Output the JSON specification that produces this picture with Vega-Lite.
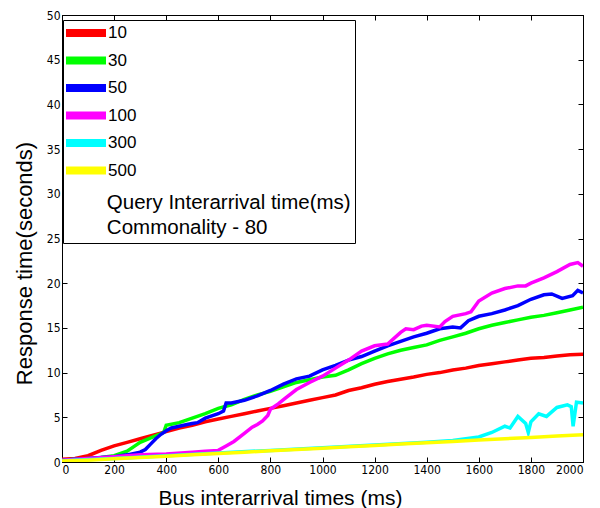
{
  "$schema": "https://vega.github.io/schema/vega-lite/v6.json",
  "width": 521,
  "height": 447,
  "autosize": "none",
  "padding": {"left": 62, "top": 15, "right": 17, "bottom": 46},
  "background": "white",
  "config": {
    "view": {"stroke": "black", "strokeWidth": 1},
    "font": "Liberation Sans",
    "axis": {
      "grid": false,
      "domainColor": "black",
      "tickColor": "black",
      "labelColor": "black",
      "titleColor": "black",
      "labelFont": "DejaVu Sans Condensed, Liberation Sans",
      "labelFontSize": 12,
      "titleFont": "Liberation Sans",
      "titleFontWeight": "normal",
      "titleFontSize": 21
    }
  },
  "data": {
    "values": [
      {"t": 0, "r": 0.3, "q": "10"}, {"t": 50, "r": 0.4, "q": "10"}, {"t": 100, "r": 0.7, "q": "10"}, {"t": 150, "r": 1.3, "q": "10"}, {"t": 200, "r": 1.8, "q": "10"}, {"t": 250, "r": 2.2, "q": "10"}, {"t": 300, "r": 2.6, "q": "10"}, {"t": 350, "r": 3.0, "q": "10"}, {"t": 400, "r": 3.4, "q": "10"}, {"t": 450, "r": 3.8, "q": "10"}, {"t": 500, "r": 4.1, "q": "10"}, {"t": 550, "r": 4.5, "q": "10"}, {"t": 600, "r": 4.8, "q": "10"}, {"t": 650, "r": 5.1, "q": "10"}, {"t": 700, "r": 5.4, "q": "10"}, {"t": 750, "r": 5.7, "q": "10"}, {"t": 800, "r": 6.0, "q": "10"}, {"t": 850, "r": 6.3, "q": "10"}, {"t": 900, "r": 6.6, "q": "10"}, {"t": 950, "r": 6.9, "q": "10"}, {"t": 1000, "r": 7.2, "q": "10"}, {"t": 1050, "r": 7.5, "q": "10"}, {"t": 1100, "r": 8.0, "q": "10"}, {"t": 1150, "r": 8.3, "q": "10"}, {"t": 1200, "r": 8.7, "q": "10"}, {"t": 1250, "r": 9.0, "q": "10"}, {"t": 1300, "r": 9.25, "q": "10"}, {"t": 1350, "r": 9.5, "q": "10"}, {"t": 1400, "r": 9.8, "q": "10"}, {"t": 1450, "r": 10.0, "q": "10"}, {"t": 1500, "r": 10.3, "q": "10"}, {"t": 1550, "r": 10.5, "q": "10"}, {"t": 1600, "r": 10.8, "q": "10"}, {"t": 1650, "r": 11.0, "q": "10"}, {"t": 1700, "r": 11.2, "q": "10"}, {"t": 1750, "r": 11.4, "q": "10"}, {"t": 1800, "r": 11.6, "q": "10"}, {"t": 1850, "r": 11.7, "q": "10"}, {"t": 1900, "r": 11.85, "q": "10"}, {"t": 1950, "r": 12.0, "q": "10"}, {"t": 2000, "r": 12.05, "q": "10"},

      {"t": 0, "r": 0.2, "q": "30"}, {"t": 50, "r": 0.3, "q": "30"}, {"t": 100, "r": 0.4, "q": "30"}, {"t": 150, "r": 0.5, "q": "30"}, {"t": 200, "r": 0.7, "q": "30"}, {"t": 250, "r": 1.2, "q": "30"}, {"t": 280, "r": 1.8, "q": "30"}, {"t": 300, "r": 2.2, "q": "30"}, {"t": 350, "r": 2.8, "q": "30"}, {"t": 390, "r": 3.3, "q": "30"}, {"t": 400, "r": 4.1, "q": "30"}, {"t": 450, "r": 4.4, "q": "30"}, {"t": 500, "r": 4.9, "q": "30"}, {"t": 550, "r": 5.4, "q": "30"}, {"t": 600, "r": 6.0, "q": "30"}, {"t": 650, "r": 6.4, "q": "30"}, {"t": 700, "r": 7.0, "q": "30"}, {"t": 750, "r": 7.5, "q": "30"}, {"t": 800, "r": 7.9, "q": "30"}, {"t": 850, "r": 8.4, "q": "30"}, {"t": 900, "r": 8.9, "q": "30"}, {"t": 950, "r": 9.2, "q": "30"}, {"t": 1000, "r": 9.5, "q": "30"}, {"t": 1050, "r": 9.7, "q": "30"}, {"t": 1100, "r": 10.3, "q": "30"}, {"t": 1150, "r": 11.0, "q": "30"}, {"t": 1200, "r": 11.6, "q": "30"}, {"t": 1250, "r": 12.1, "q": "30"}, {"t": 1300, "r": 12.5, "q": "30"}, {"t": 1350, "r": 12.8, "q": "30"}, {"t": 1400, "r": 13.1, "q": "30"}, {"t": 1450, "r": 13.6, "q": "30"}, {"t": 1500, "r": 14.0, "q": "30"}, {"t": 1550, "r": 14.4, "q": "30"}, {"t": 1600, "r": 14.9, "q": "30"}, {"t": 1650, "r": 15.3, "q": "30"}, {"t": 1700, "r": 15.6, "q": "30"}, {"t": 1750, "r": 15.9, "q": "30"}, {"t": 1800, "r": 16.2, "q": "30"}, {"t": 1850, "r": 16.4, "q": "30"}, {"t": 1900, "r": 16.7, "q": "30"}, {"t": 1950, "r": 17.0, "q": "30"}, {"t": 2000, "r": 17.3, "q": "30"},

      {"t": 0, "r": 0.2, "q": "50"}, {"t": 50, "r": 0.3, "q": "50"}, {"t": 100, "r": 0.4, "q": "50"}, {"t": 150, "r": 0.5, "q": "50"}, {"t": 200, "r": 0.6, "q": "50"}, {"t": 250, "r": 0.8, "q": "50"}, {"t": 300, "r": 1.1, "q": "50"}, {"t": 320, "r": 1.4, "q": "50"}, {"t": 340, "r": 2.0, "q": "50"}, {"t": 360, "r": 2.6, "q": "50"}, {"t": 380, "r": 3.1, "q": "50"}, {"t": 400, "r": 3.5, "q": "50"}, {"t": 420, "r": 3.8, "q": "50"}, {"t": 450, "r": 4.0, "q": "50"}, {"t": 480, "r": 4.2, "q": "50"}, {"t": 500, "r": 4.3, "q": "50"}, {"t": 520, "r": 4.4, "q": "50"}, {"t": 550, "r": 4.9, "q": "50"}, {"t": 600, "r": 5.4, "q": "50"}, {"t": 620, "r": 5.7, "q": "50"}, {"t": 630, "r": 6.6, "q": "50"}, {"t": 650, "r": 6.6, "q": "50"}, {"t": 700, "r": 6.9, "q": "50"}, {"t": 750, "r": 7.4, "q": "50"}, {"t": 800, "r": 8.0, "q": "50"}, {"t": 850, "r": 8.7, "q": "50"}, {"t": 900, "r": 9.3, "q": "50"}, {"t": 950, "r": 9.6, "q": "50"}, {"t": 1000, "r": 10.3, "q": "50"}, {"t": 1050, "r": 10.8, "q": "50"}, {"t": 1100, "r": 11.4, "q": "50"}, {"t": 1150, "r": 11.8, "q": "50"}, {"t": 1200, "r": 12.4, "q": "50"}, {"t": 1250, "r": 13.0, "q": "50"}, {"t": 1300, "r": 13.5, "q": "50"}, {"t": 1350, "r": 14.0, "q": "50"}, {"t": 1400, "r": 14.4, "q": "50"}, {"t": 1450, "r": 14.9, "q": "50"}, {"t": 1500, "r": 15.1, "q": "50"}, {"t": 1530, "r": 15.0, "q": "50"}, {"t": 1560, "r": 15.8, "q": "50"}, {"t": 1600, "r": 16.3, "q": "50"}, {"t": 1650, "r": 16.6, "q": "50"}, {"t": 1700, "r": 17.0, "q": "50"}, {"t": 1750, "r": 17.5, "q": "50"}, {"t": 1800, "r": 18.2, "q": "50"}, {"t": 1850, "r": 18.7, "q": "50"}, {"t": 1880, "r": 18.8, "q": "50"}, {"t": 1920, "r": 18.3, "q": "50"}, {"t": 1960, "r": 18.6, "q": "50"}, {"t": 1980, "r": 19.2, "q": "50"}, {"t": 2000, "r": 18.9, "q": "50"},

      {"t": 0, "r": 0.2, "q": "100"}, {"t": 100, "r": 0.4, "q": "100"}, {"t": 200, "r": 0.6, "q": "100"}, {"t": 300, "r": 0.8, "q": "100"}, {"t": 400, "r": 0.9, "q": "100"}, {"t": 500, "r": 1.1, "q": "100"}, {"t": 550, "r": 1.2, "q": "100"}, {"t": 600, "r": 1.3, "q": "100"}, {"t": 630, "r": 1.8, "q": "100"}, {"t": 660, "r": 2.3, "q": "100"}, {"t": 700, "r": 3.2, "q": "100"}, {"t": 730, "r": 3.9, "q": "100"}, {"t": 750, "r": 4.2, "q": "100"}, {"t": 770, "r": 4.6, "q": "100"}, {"t": 790, "r": 5.2, "q": "100"}, {"t": 800, "r": 5.9, "q": "100"}, {"t": 830, "r": 6.5, "q": "100"}, {"t": 860, "r": 7.2, "q": "100"}, {"t": 900, "r": 8.1, "q": "100"}, {"t": 950, "r": 8.9, "q": "100"}, {"t": 1000, "r": 9.6, "q": "100"}, {"t": 1050, "r": 10.5, "q": "100"}, {"t": 1100, "r": 11.4, "q": "100"}, {"t": 1150, "r": 12.4, "q": "100"}, {"t": 1200, "r": 13.0, "q": "100"}, {"t": 1250, "r": 13.2, "q": "100"}, {"t": 1300, "r": 14.5, "q": "100"}, {"t": 1320, "r": 14.9, "q": "100"}, {"t": 1350, "r": 14.8, "q": "100"}, {"t": 1380, "r": 15.2, "q": "100"}, {"t": 1400, "r": 15.3, "q": "100"}, {"t": 1450, "r": 15.1, "q": "100"}, {"t": 1470, "r": 15.7, "q": "100"}, {"t": 1500, "r": 16.3, "q": "100"}, {"t": 1550, "r": 16.6, "q": "100"}, {"t": 1570, "r": 16.8, "q": "100"}, {"t": 1600, "r": 18.0, "q": "100"}, {"t": 1650, "r": 18.9, "q": "100"}, {"t": 1700, "r": 19.4, "q": "100"}, {"t": 1750, "r": 19.7, "q": "100"}, {"t": 1780, "r": 19.7, "q": "100"}, {"t": 1800, "r": 20.0, "q": "100"}, {"t": 1850, "r": 20.6, "q": "100"}, {"t": 1900, "r": 21.3, "q": "100"}, {"t": 1950, "r": 22.1, "q": "100"}, {"t": 1980, "r": 22.3, "q": "100"}, {"t": 2000, "r": 21.9, "q": "100"},

      {"t": 0, "r": 0.15, "q": "300"}, {"t": 200, "r": 0.4, "q": "300"}, {"t": 400, "r": 0.7, "q": "300"}, {"t": 600, "r": 1.0, "q": "300"}, {"t": 800, "r": 1.3, "q": "300"}, {"t": 1000, "r": 1.6, "q": "300"}, {"t": 1200, "r": 1.9, "q": "300"}, {"t": 1400, "r": 2.2, "q": "300"}, {"t": 1500, "r": 2.4, "q": "300"}, {"t": 1550, "r": 2.6, "q": "300"}, {"t": 1600, "r": 2.8, "q": "300"}, {"t": 1650, "r": 3.3, "q": "300"}, {"t": 1700, "r": 4.0, "q": "300"}, {"t": 1720, "r": 3.8, "q": "300"}, {"t": 1750, "r": 5.1, "q": "300"}, {"t": 1780, "r": 4.3, "q": "300"}, {"t": 1790, "r": 3.3, "q": "300"}, {"t": 1800, "r": 4.5, "q": "300"}, {"t": 1830, "r": 5.4, "q": "300"}, {"t": 1860, "r": 5.1, "q": "300"}, {"t": 1880, "r": 5.6, "q": "300"}, {"t": 1900, "r": 6.1, "q": "300"}, {"t": 1940, "r": 6.4, "q": "300"}, {"t": 1955, "r": 6.2, "q": "300"}, {"t": 1962, "r": 4.0, "q": "300"}, {"t": 1975, "r": 6.7, "q": "300"}, {"t": 2000, "r": 6.6, "q": "300"},

      {"t": 0, "r": 0.1, "q": "500"}, {"t": 100, "r": 0.2, "q": "500"}, {"t": 200, "r": 0.35, "q": "500"}, {"t": 300, "r": 0.5, "q": "500"}, {"t": 400, "r": 0.65, "q": "500"}, {"t": 500, "r": 0.8, "q": "500"}, {"t": 600, "r": 0.95, "q": "500"}, {"t": 700, "r": 1.1, "q": "500"}, {"t": 800, "r": 1.25, "q": "500"}, {"t": 900, "r": 1.4, "q": "500"}, {"t": 1000, "r": 1.55, "q": "500"}, {"t": 1100, "r": 1.7, "q": "500"}, {"t": 1200, "r": 1.85, "q": "500"}, {"t": 1300, "r": 2.0, "q": "500"}, {"t": 1400, "r": 2.15, "q": "500"}, {"t": 1500, "r": 2.3, "q": "500"}, {"t": 1600, "r": 2.45, "q": "500"}, {"t": 1700, "r": 2.6, "q": "500"}, {"t": 1800, "r": 2.75, "q": "500"}, {"t": 1900, "r": 2.9, "q": "500"}, {"t": 2000, "r": 3.05, "q": "500"}
    ]
  },
  "resolve": {"axis": {"x": "independent", "y": "independent"}},
  "layer": [
    {
      "mark": {"type": "line", "strokeWidth": 3.5, "clip": true},
      "encoding": {
        "x": {"field": "t", "type": "quantitative", "scale": {"domain": [0, 2000], "nice": false},
          "axis": {"orient": "bottom", "values": [0,200,400,600,800,1000,1200,1400,1600,1800,2000], "format": "d", "title": "Bus interarrival times (ms)", "tickSize": -5, "labelPadding": 7, "titlePadding": 12, "titleX": 218, "titleAlign": "center"}},
        "y": {"field": "r", "type": "quantitative", "scale": {"domain": [0, 50], "nice": false},
          "axis": {"orient": "left", "values": [0,5,10,15,20,25,30,35,40,45,50], "format": "d", "title": "Response time(seconds)", "titleFontSize": 22, "tickSize": -5, "labelPadding": 7, "titlePadding": 10, "titleY": 248, "titleAlign": "center"}},
        "color": {"field": "q", "type": "nominal", "sort": null,
          "scale": {"domain": ["10","30","50","100","300","500"], "range": ["#ff0000","#00ff00","#0000ff","#ff00ff","#00ffff","#ffff00"]},
          "legend": {
            "orient": "none", "legendX": 1, "legendY": 5,
            "title": ["\u200b\u00a0\u00a0\u00a0\u00a0\u00a0\u00a0\u00a0Query Interarrival time(ms)", "\u200b\u00a0\u00a0\u00a0\u00a0\u00a0\u00a0\u00a0Commonality - 80"],
            "titleOrient": "bottom", "titleFontSize": 20.5, "titleFontWeight": "normal", "titleFont": "Liberation Sans", "titleColor": "black", "titleLineHeight": 25, "titlePadding": 6, "titleLimit": 1000,
            "strokeColor": "black", "fillColor": "white", "padding": 4,
            "symbolType": "M-2,0H6", "symbolSize": 100, "symbolStrokeWidth": 8,
            "labelFontSize": 17, "labelFont": "Liberation Sans", "labelColor": "black", "labelOffset": 23, "rowPadding": -4.5
          }}
      }
    },
    {
      "mark": {"type": "point", "opacity": 0},
      "encoding": {
        "x": {"field": "t", "type": "quantitative", "axis": {"orient": "top", "values": [0,200,400,600,800,1000,1200,1400,1600,1800,2000], "labels": false, "title": null, "tickSize": -5, "domain": true}},
        "y": {"field": "r", "type": "quantitative", "axis": {"orient": "right", "values": [0,5,10,15,20,25,30,35,40,45,50], "labels": false, "title": null, "tickSize": -5, "domain": true}}
      }
    }
  ]
}
